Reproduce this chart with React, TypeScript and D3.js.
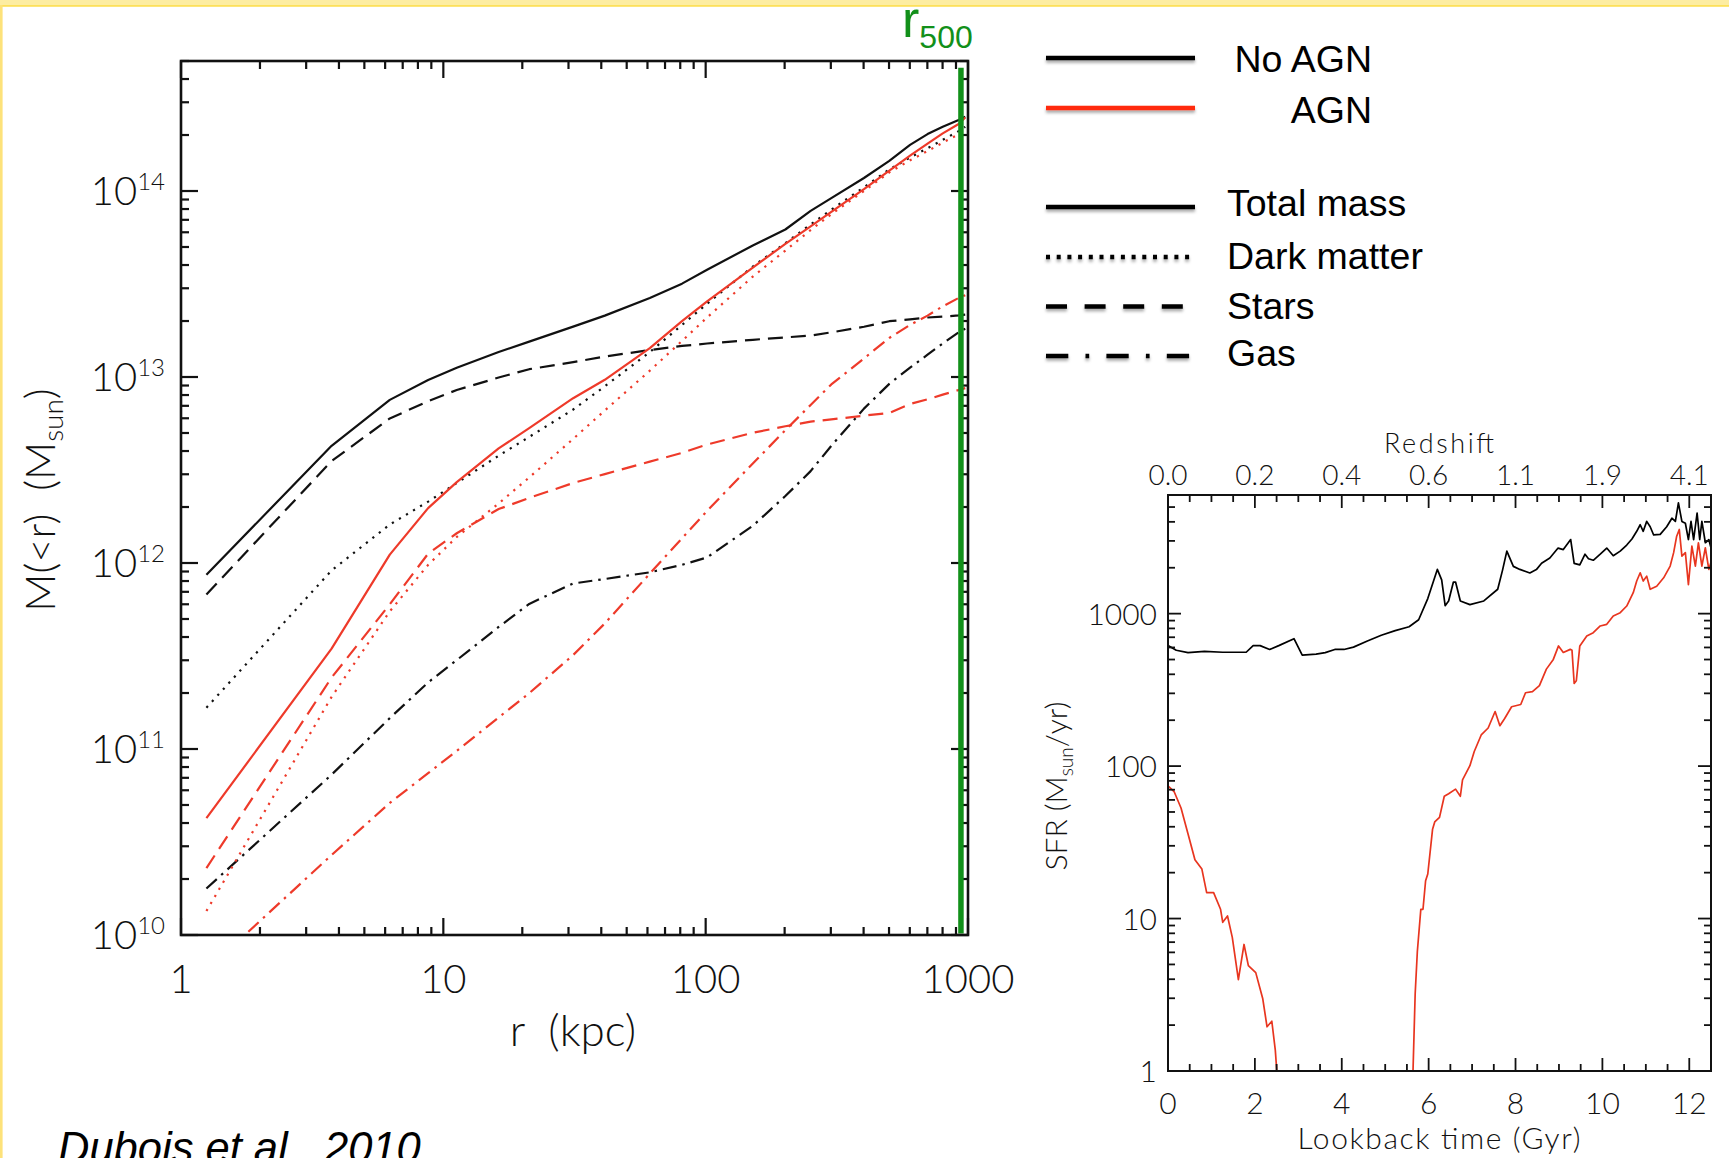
import React, { useEffect, useRef } from "react";
import * as d3 from "d3";

// ---------------- Left panel: enclosed mass M(<r) ----------------
const radiusKpc = [1.25, 3.75, 6.25, 8.75, 11.25, 16.25, 21.25, 31.25, 41.25, 61.25, 81.25, 101.25, 151.25, 201.25, 251.25, 301.25, 401.25, 501.25, 601.25, 701.25, 801.25, 921.25, 976.25];
// log10 of enclosed mass (Msun)
const noAgnTotal = [11.937, 12.63, 12.877, 12.984, 13.05, 13.134, 13.19, 13.271, 13.33, 13.425, 13.502, 13.577, 13.707, 13.793, 13.893, 13.962, 14.07, 14.162, 14.248, 14.306, 14.345, 14.382, 14.4];
const noAgnDarkMatter = [11.222, 11.96, 12.207, 12.33, 12.43, 12.577, 12.678, 12.825, 12.95, 13.134, 13.28, 13.394, 13.594, 13.72, 13.82, 13.9, 14.02, 14.116, 14.18, 14.23, 14.275, 14.322, 14.345];
const noAgnStars = [11.831, 12.548, 12.777, 12.87, 12.93, 12.997, 13.042, 13.08, 13.11, 13.145, 13.167, 13.18, 13.2, 13.213, 13.223, 13.24, 13.27, 13.3, 13.31, 13.32, 13.325, 13.331, 13.335];
const noAgnGas = [10.25, 10.862, 11.166, 11.358, 11.478, 11.656, 11.78, 11.89, 11.914, 11.95, 11.99, 12.03, 12.2, 12.36, 12.494, 12.63, 12.83, 12.963, 13.05, 13.12, 13.18, 13.24, 13.26];
const agnTotal = [10.628, 11.54, 12.045, 12.295, 12.435, 12.616, 12.725, 12.886, 12.985, 13.155, 13.3, 13.407, 13.588, 13.716, 13.81, 13.888, 14.01, 14.11, 14.19, 14.255, 14.31, 14.36, 14.395];
const agnDarkMatter = [10.129, 11.28, 11.74, 11.99, 12.14, 12.32, 12.46, 12.667, 12.82, 13.034, 13.194, 13.32, 13.54, 13.68, 13.79, 13.875, 14.0, 14.1, 14.165, 14.215, 14.26, 14.305, 14.32];
const agnStars = [10.36, 11.384, 11.778, 12.05, 12.16, 12.29, 12.35, 12.43, 12.478, 12.545, 12.592, 12.637, 12.7, 12.735, 12.76, 12.772, 12.792, 12.807, 12.855, 12.88, 12.905, 12.93, 12.94];
const agnGas = [9.81, 10.43, 10.71, 10.87, 10.99, 11.17, 11.3, 11.505, 11.675, 11.943, 12.133, 12.28, 12.535, 12.714, 12.85, 12.96, 13.1, 13.21, 13.28, 13.33, 13.38, 13.425, 13.44];
const r500Kpc = 940;
const massTickExponents = [10, 11, 12, 13, 14];
const radiusTickLabels = ["1", "10", "100", "1000"];

// ---------------- Right panel: star formation rate ----------------
const sfrTimeNoAgn = [0, 0.19, 0.46, 0.84, 1.26, 1.8, 1.96, 2.12, 2.34, 2.55, 2.9, 3.09, 3.41, 3.62, 3.84, 4.05, 4.27, 4.59, 4.91, 5.23, 5.55, 5.77, 5.98, 6.2, 6.3, 6.38, 6.46, 6.57, 6.62, 6.73, 6.95, 7.27, 7.59, 7.7, 7.8, 7.95, 8.1, 8.33, 8.48, 8.6, 8.79, 8.98, 9.1, 9.27, 9.35, 9.48, 9.6, 9.68, 9.79, 9.95, 10.1, 10.25, 10.41, 10.56, 10.68, 10.79, 10.87, 10.94, 11.02, 11.1, 11.18, 11.33, 11.48, 11.6, 11.68, 11.75, 11.83, 11.91, 11.98, 12.04, 12.1, 12.18, 12.24, 12.29, 12.37, 12.45, 12.52];
const sfrNoAgn = [617, 575, 555, 566, 558, 558, 617, 617, 582, 617, 685, 535, 543, 555, 582, 582, 603, 661, 721, 774, 820, 912, 1256, 1950, 1667, 1127, 1211, 1611, 1611, 1211, 1146, 1211, 1445, 1923, 2570, 2042, 1950, 1849, 1945, 2138, 2317, 2692, 2630, 3062, 2138, 2089, 2455, 2291, 2239, 2455, 2692, 2399, 2570, 2818, 3090, 3467, 3828, 3467, 4027, 3715, 3281, 3311, 3715, 4227, 4027, 5321, 4027, 3917, 3062, 4027, 3062, 4571, 3062, 4027, 2917, 3062, 2570];
const sfrTimeAgnEarly = [0, 0.14, 0.3, 0.46, 0.62, 0.78, 0.89, 1.05, 1.21, 1.26, 1.37, 1.48, 1.62, 1.75, 1.85, 2.02, 2.18, 2.28, 2.39, 2.47, 2.53];
const sfrAgnEarly = [74.1, 68.1, 53.1, 36.0, 24.3, 21.1, 14.8, 14.8, 11.5, 9.44, 10.4, 7.53, 3.97, 6.76, 4.91, 4.42, 2.99, 1.95, 2.12, 1.37, 0.79];
const sfrTimeAgnLate = [5.63, 5.69, 5.74, 5.82, 5.87, 5.93, 5.98, 6.09, 6.14, 6.25, 6.36, 6.46, 6.62, 6.73, 6.78, 6.95, 7.05, 7.21, 7.37, 7.53, 7.64, 7.75, 7.91, 8.12, 8.23, 8.39, 8.55, 8.71, 8.87, 8.99, 9.1, 9.26, 9.3, 9.35, 9.4, 9.48, 9.64, 9.79, 9.95, 10.1, 10.25, 10.41, 10.56, 10.71, 10.79, 10.87, 10.94, 11.02, 11.1, 11.25, 11.41, 11.56, 11.64, 11.71, 11.77, 11.83, 11.91, 11.98, 12.06, 12.14, 12.21, 12.29, 12.37, 12.45, 12.52];
const sfrAgnLate = [0.79, 3.21, 6.08, 11.5, 11.5, 17.7, 19.6, 38.5, 43.0, 46.1, 63.4, 65.8, 70.6, 63.4, 81.3, 100.7, 124.7, 160.0, 177.8, 228.0, 184.1, 205.1, 244.9, 253.5, 302.7, 307.6, 337.3, 432.5, 501, 614, 556, 583, 575, 349, 363, 614, 713, 750, 830, 851, 966, 1014, 1122, 1371, 1637, 1854, 1637, 1762, 1445, 1514, 1718, 2051, 2512, 3221, 3565, 2382, 2512, 1549, 2773, 2051, 2917, 2051, 2704, 1950, 2270];
const lookbackTicks = [0, 2, 4, 6, 8, 10, 12];
const redshiftLabels = ["0.0", "0.2", "0.4", "0.6", "1.1", "1.9", "4.1"];
const sfrTicks = [1, 10, 100, 1000];

// ---------------- Legend ----------------
const runLabels = ["No AGN", "AGN"];
const componentLabels = ["Total mass", "Dark matter", "Stars", "Gas"];

const W = 1729;
const H = 1158;
const BLACK = "#111";
const RED = "#ee3a2a";
const GREEN = "#12901a";
const AXIS_FONT = "Lato, 'DejaVu Sans', sans-serif";
const AXIS_WEIGHT = 300;
const AXIS_INK = "#111";
const LEG_FONT = "'Liberation Sans', Arial, sans-serif";

export default function App() {
  const ref = useRef<SVGSVGElement>(null);

  useEffect(() => {
    document.body.style.margin = "0";
    document.body.style.overflow = "hidden";
    const svg = d3.select(ref.current);
    svg.selectAll("*").remove();

    const defs = svg.append("defs");
    const f = defs.append("filter").attr("id", "legshadow").attr("filterUnits", "userSpaceOnUse")
      .attr("x", 1000).attr("y", 20).attr("width", 260).attr("height", 380);
    f.append("feDropShadow").attr("dx", 0).attr("dy", 2.5).attr("stdDeviation", 1.4).attr("flood-color", "#000").attr("flood-opacity", 0.35);

    // background + slide border
    svg.append("rect").attr("width", W).attr("height", H).attr("fill", "#fff");
    svg.append("rect").attr("x", 0).attr("y", 0).attr("width", W).attr("height", 5).attr("fill", "#fdeda2");
    svg.append("rect").attr("x", 0).attr("y", 5).attr("width", W).attr("height", 1.8).attr("fill", "#fde05a");
    svg.append("rect").attr("x", 0).attr("y", 5).attr("width", 2.6).attr("height", H).attr("fill", "#fde27a");

    // ================= LEFT PANEL =================
    const L = { x0: 181, x1: 968, y0: 61, y1: 935 };
    const xL = d3.scaleLog().domain([1, 1000]).range([L.x0, L.x1]);
    const yL = d3.scaleLog().domain([1e10, 5e14]).range([L.y1, L.y0]);
    const gL = svg.append("g");

    defs.append("clipPath").attr("id", "clipL").append("rect").attr("x", L.x0).attr("y", L.y0).attr("width", L.x1 - L.x0).attr("height", L.y1 - L.y0);

    const massSeries = [
      { v: noAgnDarkMatter, c: BLACK, d: "2.2 6" },
      { v: noAgnStars, c: BLACK, d: "15 8" },
      { v: noAgnGas, c: BLACK, d: "14 6 2.5 6" },
      { v: noAgnTotal, c: BLACK, d: null },
      { v: agnDarkMatter, c: RED, d: "2.2 6" },
      { v: agnStars, c: RED, d: "15 8" },
      { v: agnGas, c: RED, d: "14 6 2.5 6" },
      { v: agnTotal, c: RED, d: null },
    ];
    const lineL = d3.line<number>().x((_, i) => xL(radiusKpc[i])).y((v) => yL(Math.pow(10, v)));
    const curves = gL.append("g").attr("clip-path", "url(#clipL)");
    massSeries.forEach((s) => {
      curves.append("path").attr("d", lineL(s.v) as string).attr("fill", "none").attr("stroke", s.c).attr("stroke-width", 2.2)
        .attr("stroke-dasharray", s.d).attr("stroke-linejoin", "round");
    });

    // ticks
    const majR = [1, 10, 100, 1000];
    const minR: number[] = [];
    [1, 10, 100].forEach((d) => { for (let k = 2; k <= 9; k++) minR.push(d * k); });
    const majM = massTickExponents.map((e) => Math.pow(10, e));
    const minM: number[] = [];
    massTickExponents.forEach((e) => { for (let k = 2; k <= 9; k++) { const v = k * Math.pow(10, e); if (v <= 5e14) minM.push(v); } });
    const tk = gL.append("g").attr("stroke", BLACK).attr("stroke-width", 2.2);
    const addX = (vals: number[], len: number) => vals.forEach((v) => {
      const x = xL(v);
      tk.append("line").attr("x1", x).attr("x2", x).attr("y1", L.y1).attr("y2", L.y1 - len);
      tk.append("line").attr("x1", x).attr("x2", x).attr("y1", L.y0).attr("y2", L.y0 + len);
    });
    const addY = (vals: number[], len: number) => vals.forEach((v) => {
      const y = yL(v);
      tk.append("line").attr("x1", L.x0).attr("x2", L.x0 + len).attr("y1", y).attr("y2", y);
      tk.append("line").attr("x1", L.x1).attr("x2", L.x1 - len).attr("y1", y).attr("y2", y);
    });
    addX(majR, 17); addX(minR, 8); addY(majM, 17); addY(minM, 8);

    // r500 line
    gL.append("line").attr("x1", xL(r500Kpc)).attr("x2", xL(r500Kpc)).attr("y1", yL(4.6e14)).attr("y2", yL(1.02e10))
      .attr("stroke", GREEN).attr("stroke-width", 5.5);

    gL.append("rect").attr("x", L.x0).attr("y", L.y0).attr("width", L.x1 - L.x0).attr("height", L.y1 - L.y0)
      .attr("fill", "none").attr("stroke", BLACK).attr("stroke-width", 2.6);

    // labels
    radiusTickLabels.forEach((t, i) => {
      gL.append("text").attr("x", xL(majR[i])).attr("y", L.y1 + 58).attr("text-anchor", "middle")
        .attr("font-family", AXIS_FONT).attr("font-weight", AXIS_WEIGHT).attr("font-size", 40).attr("fill", AXIS_INK).text(t);
    });
    massTickExponents.forEach((e) => {
      const y = yL(Math.pow(10, e));
      const t = gL.append("text").attr("x", 165).attr("y", y + 14).attr("text-anchor", "end")
        .attr("font-family", AXIS_FONT).attr("font-weight", AXIS_WEIGHT).attr("font-size", 40).attr("fill", AXIS_INK);
      t.append("tspan").text("10");
      t.append("tspan").attr("font-size", 24).attr("dy", -15).text(String(e));
    });
    gL.append("text").attr("x", 573).attr("y", 1046).attr("text-anchor", "middle").attr("font-family", AXIS_FONT)
      .attr("font-weight", AXIS_WEIGHT).attr("font-size", 44).attr("fill", AXIS_INK).style("white-space", "pre").text("r  (kpc)");
    const yt = gL.append("text").attr("transform", "translate(55,500) rotate(-90)").attr("text-anchor", "middle")
      .attr("font-family", AXIS_FONT).attr("font-weight", AXIS_WEIGHT).attr("font-size", 42).attr("fill", AXIS_INK).style("white-space", "pre");
    yt.append("tspan").text("M(<r)  (M");
    yt.append("tspan").attr("font-size", 28).attr("dy", 8).text("sun");
    yt.append("tspan").attr("dy", -8).text(")");

    // r500 label
    const rl = svg.append("text").attr("x", 902).attr("y", 37).attr("font-family", LEG_FONT).attr("font-size", 52).attr("fill", GREEN);
    rl.append("tspan").text("r");
    rl.append("tspan").attr("font-size", 32).attr("dy", 11).text("500");

    // ================= LEGEND =================
    const lg = svg.append("g");
    const lx0 = 1046, lx1 = 1195;
    const legLine = (y: number, color: string, dash: string | null, x1: number) =>
      lg.append("line").attr("x1", lx0).attr("x2", x1).attr("y1", y).attr("y2", y).attr("stroke", color)
        .attr("stroke-width", 4.6).attr("stroke-dasharray", dash).attr("filter", "url(#legshadow)");
    legLine(58, "#000", null, lx1);
    legLine(108, "#ff2a10", null, lx1);
    legLine(207, "#000", null, lx1);
    legLine(257, "#000", "4 6.7", lx1);
    legLine(306.5, "#000", "21 17.6", 1185);
    legLine(356, "#000", "22.3 17.2 3.7 17.2", 1190);
    [72, 122.5].forEach((y, i) => {
      lg.append("text").attr("x", 1372).attr("y", y).attr("text-anchor", "end").attr("font-family", LEG_FONT)
        .attr("font-size", 37.5).attr("fill", "#000").text(runLabels[i]);
    });
    [216, 269, 319, 366].forEach((y, i) => {
      lg.append("text").attr("x", 1227).attr("y", y).attr("font-family", LEG_FONT)
        .attr("font-size", 37.5).attr("fill", "#000").text(componentLabels[i]);
    });

    // ================= RIGHT PANEL =================
    const R = { x0: 1168, x1: 1711, y0: 495, y1: 1071 };
    const xR = d3.scaleLinear().domain([0, 12.5]).range([R.x0, R.x1]);
    const yR = d3.scaleLog().domain([1, 6000]).range([R.y1, R.y0]);
    const gR = svg.append("g");
    defs.append("clipPath").attr("id", "clipR").append("rect").attr("x", R.x0).attr("y", R.y0).attr("width", R.x1 - R.x0).attr("height", R.y1 - R.y0);

    const cR = gR.append("g").attr("clip-path", "url(#clipR)");
    const drawSfr = (ts: number[], vs: number[], color: string) => {
      const gen = d3.line<number>().x((_, i) => xR(ts[i])).y((v) => yR(v));
      cR.append("path").attr("d", gen(vs) as string).attr("fill", "none").attr("stroke", color).attr("stroke-width", 1.7).attr("stroke-linejoin", "round");
    };
    drawSfr(sfrTimeNoAgn, sfrNoAgn, "#000");
    drawSfr(sfrTimeAgnEarly, sfrAgnEarly, "#e8351f");
    drawSfr(sfrTimeAgnLate, sfrAgnLate, "#e8351f");

    const tkR = gR.append("g").attr("stroke", BLACK).attr("stroke-width", 1.8);
    const minT: number[] = [];
    for (let t = 0.5; t <= 12.01; t += 0.5) if (Math.abs(t / 2 - Math.round(t / 2)) > 1e-6) minT.push(t);
    const addXR = (vals: number[], len: number) => vals.forEach((v) => {
      const x = xR(v);
      tkR.append("line").attr("x1", x).attr("x2", x).attr("y1", R.y1).attr("y2", R.y1 - len);
      tkR.append("line").attr("x1", x).attr("x2", x).attr("y1", R.y0).attr("y2", R.y0 + len);
    });
    const minS: number[] = [];
    sfrTicks.forEach((d) => { for (let k = 2; k <= 9; k++) { const v = d * k; if (v < 6000) minS.push(v); } });
    const addYR = (vals: number[], len: number) => vals.forEach((v) => {
      const y = yR(v);
      tkR.append("line").attr("x1", R.x0).attr("x2", R.x0 + len).attr("y1", y).attr("y2", y);
      tkR.append("line").attr("x1", R.x1).attr("x2", R.x1 - len).attr("y1", y).attr("y2", y);
    });
    addXR(lookbackTicks, 13); addXR(minT, 7); addYR(sfrTicks, 13); addYR(minS, 7);
    gR.append("rect").attr("x", R.x0).attr("y", R.y0).attr("width", R.x1 - R.x0).attr("height", R.y1 - R.y0)
      .attr("fill", "none").attr("stroke", BLACK).attr("stroke-width", 2);

    lookbackTicks.forEach((t, i) => {
      gR.append("text").attr("x", xR(t)).attr("y", R.y1 + 43).attr("text-anchor", "middle").attr("font-family", AXIS_FONT)
        .attr("font-weight", AXIS_WEIGHT).attr("font-size", 30).attr("fill", AXIS_INK).text(String(t));
      gR.append("text").attr("x", xR(t)).attr("y", R.y0 - 10).attr("text-anchor", "middle").attr("font-family", AXIS_FONT)
        .attr("font-weight", AXIS_WEIGHT).attr("font-size", 28).attr("fill", AXIS_INK).text(redshiftLabels[i]);
    });
    sfrTicks.forEach((v) => {
      gR.append("text").attr("x", R.x0 - 11).attr("y", yR(v) + 11).attr("text-anchor", "end").attr("font-family", AXIS_FONT)
        .attr("font-weight", AXIS_WEIGHT).attr("font-size", 30).attr("fill", AXIS_INK).text(String(v));
    });
    gR.append("text").attr("x", 1439).attr("y", 1149).attr("text-anchor", "middle").attr("font-family", AXIS_FONT)
      .attr("font-weight", AXIS_WEIGHT).attr("font-size", 30).attr("fill", AXIS_INK).attr("textLength", 283).attr("lengthAdjust", "spacing").text("Lookback time (Gyr)");
    gR.append("text").attr("x", 1439).attr("y", 453).attr("text-anchor", "middle").attr("font-family", AXIS_FONT)
      .attr("font-weight", AXIS_WEIGHT).attr("font-size", 27).attr("fill", AXIS_INK).attr("textLength", 110).attr("lengthAdjust", "spacing").text("Redshift");
    const st = gR.append("text").attr("transform", "translate(1067,786) rotate(-90)").attr("text-anchor", "middle")
      .attr("font-family", AXIS_FONT).attr("font-weight", AXIS_WEIGHT).attr("font-size", 30).attr("fill", AXIS_INK);
    st.append("tspan").text("SFR (M");
    st.append("tspan").attr("font-size", 19).attr("dy", 6).text("sun");
    st.append("tspan").attr("dy", -6).text("/yr)");

    // citation
    svg.append("text").attr("x", 58).attr("y", 1163).attr("font-family", LEG_FONT).attr("font-style", "italic")
      .attr("font-size", 43.5).attr("fill", "#000").text("Dubois et al., 2010");
  }, []);

  return <svg ref={ref} width={W} height={H} style={{ position: "absolute", left: 0, top: 0, display: "block" }} />;
}
